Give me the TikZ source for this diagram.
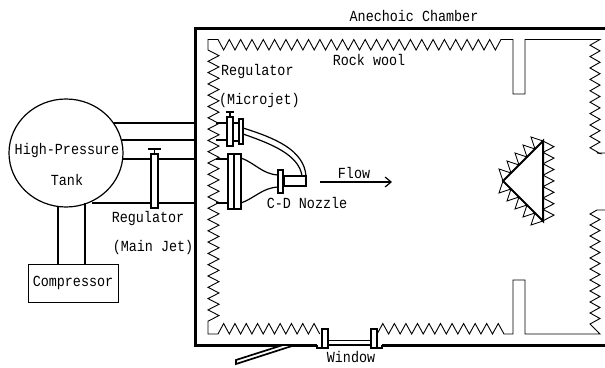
\documentclass[tikz,border=0pt]{standalone}
\usepackage{fontspec}
\setmainfont[FakeStretch=0.87]{Liberation Mono}
\usetikzlibrary{arrows.meta,positioning,shapes.geometric}

\tikzset{
  label/.style={font=\fontsize{15.4}{16}\selectfont, inner sep=0pt},
  wall/.style={line width=3pt},
  wool/.style={line width=0.9pt, line join=miter},
  part/.style={line width=1.2pt, fill=white},
  pipe/.style={line width=1.2pt},
}

\begin{document}
\begin{tikzpicture}[x=1pt,y=-1pt,>={Straight Barb[length=6pt,width=10pt]}]
\useasboundingbox (0,0) rectangle (605,367);

% Define lengths
\def\wallleft{195}
\def\walltop{28}
\def\wallbottom{345}
\def\wooltop{39.5}
\def\woolbottom{334}

% Draw the chamber walls
\draw[wall] (605,\walltop) -- (\wallleft,\walltop) -- (\wallleft,\wallbottom) -- (317,\wallbottom);
\draw[wall] (382,\wallbottom) -- (605,\wallbottom);

% Rock wool along the top, with the upper baffle
\draw[wool] (208,50) -- (208,\wooltop) -- (218,\wooltop)
  foreach \i in {1,...,25} {-- ++(5.66,10.5) -- ++(5.66,-10.5)}
  -- (513,\wooltop) -- (513,94) -- (525,94) -- (525,\wooltop) -- (600,\wooltop)
  foreach \i in {1,...,10} {-- ++(-10,5.7) -- ++(10,5.7)}
  -- (597,153) -- (605,153);

% Rock wool on the left
\draw[wool] (208,50) foreach \i in {1,...,24} {-- ++(11,5.65) -- ++(-11,5.65)}
  -- (208,\woolbottom) -- (218,\woolbottom)
  foreach \i in {1,...,9} {-- ++(5.65,-10.5) -- ++(5.65,10.5)};

% Rock wool at the bottom right, with the lower baffle
\draw[wool] (605,210) -- (597,210) -- (590,214)
  foreach \i in {1,...,10} {-- ++(10,5.5) -- ++(-10,5.5)}
  -- (600,\woolbottom) -- (525,\woolbottom) -- (525,280) -- (513,280) -- (513,\woolbottom) -- (504,\woolbottom)
  foreach \i in {1,...,11} {-- ++(-5.77,-10.5) -- ++(-5.77,10.5)};

% Window
\draw[part] (317,\wallbottom) -- (317,348) -- (328,348) -- (328,\wallbottom);
\draw[part] (382,\wallbottom) -- (382,348) -- (371,348) -- (371,\wallbottom);
\draw[pipe] (328,340.5) -- (371,340.5);
\draw[pipe] (328,345) -- (371,345);
\draw[part] (322,329) rectangle (328,348);
\draw[part] (371,329) rectangle (377,348);
\draw[line width=1.7pt, fill=white] (236,360) -- (283,345) -- (295,345) -- (236,364) -- cycle;

% Tank and compressor
\node[draw, ellipse, line width=1.2pt, minimum width=114pt, minimum height=108pt, inner sep=0pt] (tank) at (66,153) {};
\node[draw, rectangle, line width=1.0pt, minimum width=90pt, minimum height=38pt, inner sep=0pt, label] (compressor) at (73,283) {Compressor};
\node[label] (tanktop) at (67,151) {High-Pressure};
\node[label] (tanklow) at (67,180) {Tank};

\coordinate (pipeL) at (58,206);
\coordinate (pipeR) at (85,203);
\draw[pipe] (pipeL) -- (pipeL |- compressor.north);
\draw[pipe] (pipeR) -- (pipeR |- compressor.north);

% Pipes from the tank to the regulators
\draw[pipe] (114,123) -- (\wallleft,123);
\draw[pipe] (122,140) -- (\wallleft,140);
\draw[pipe] (123,159) -- (\wallleft,159);
\draw[pipe] (92,203) -- (\wallleft,203);
\draw[pipe] (216,123) -- (227,123);
\draw[pipe] (216,140) -- (227,140);
\draw[pipe] (216,159) -- (228,159);
\draw[pipe] (216,203) -- (228,203);

% Main jet regulator
\draw[part] (151,154) rectangle (158,208);
\draw[pipe] (154.5,154) -- (154.5,149);
\draw[pipe] (148,149) -- (161,149);

% Microjet regulator
\draw[pipe] (233,123) -- (239,123);
\draw[pipe] (233,141) -- (239,141);
\draw[part] (227,117) rectangle (233,146);
\draw[part] (239,119) rectangle (243,144);
\draw[pipe] (230,117) -- (230,113);
\draw[pipe] (226,112) -- (234,112);

% Microjet line
\draw[pipe] (243,128) .. controls (275,138) and (304,150) .. (306,176);
\draw[pipe] (243,134) .. controls (272,144) and (299,155) .. (302,176);

% Nozzle
\draw[part] (228,154) rectangle (234,209);
\draw[part] (234,154) rectangle (241,209);
\draw[pipe] (241,158) .. controls (255,163) and (262,174) .. (278,175);
\draw[pipe] (241,203) .. controls (255,198) and (262,188) .. (278,187);
\draw[part] (284,176) rectangle (306,186);
\draw[part] (278,170) rectangle (283,193);

% Flow arrow
\coordinate (flowstart) at (320,182);
\coordinate (flowend) at (392,182);
\draw[->, pipe] (flowstart) -- (flowend);

% Model with its wool
\draw[wool] (503,181) foreach \i in {1,...,5} {-- ++(-4,-12) -- ++(12,4)};
\draw[wool] (503,181) foreach \i in {1,...,5} {-- ++(-4,12) -- ++(12,-4)};
\draw[wool] (543,141) foreach \i in {1,...,7} {-- ++(11,5.7) -- ++(-11,5.7)};
\draw[line width=2pt, line join=miter, fill=white] (503,181) -- (543,141) -- (543,221) -- cycle;

% Labels
\node[label] (chamber) at (414,16) {Anechoic Chamber};
\node[label] (rockwool) at (369,60) {Rock wool};
\node[label, anchor=west] (regmicroa) at (221,72) {Regulator};
\node[label, anchor=west] (regmicrob) at (219,101) {(Microjet)};
\node[label] (regmaina) at (148,219) {Regulator};
\node[label] (regmainb) at (153,248) {(Main Jet)};
\node[label] (flow) at (354,173) {Flow};
\node[label] (cdnozzle) at (307,203) {C-D Nozzle};
\node[label] (window) at (351,357) {Window};

\end{tikzpicture}
\end{document}
